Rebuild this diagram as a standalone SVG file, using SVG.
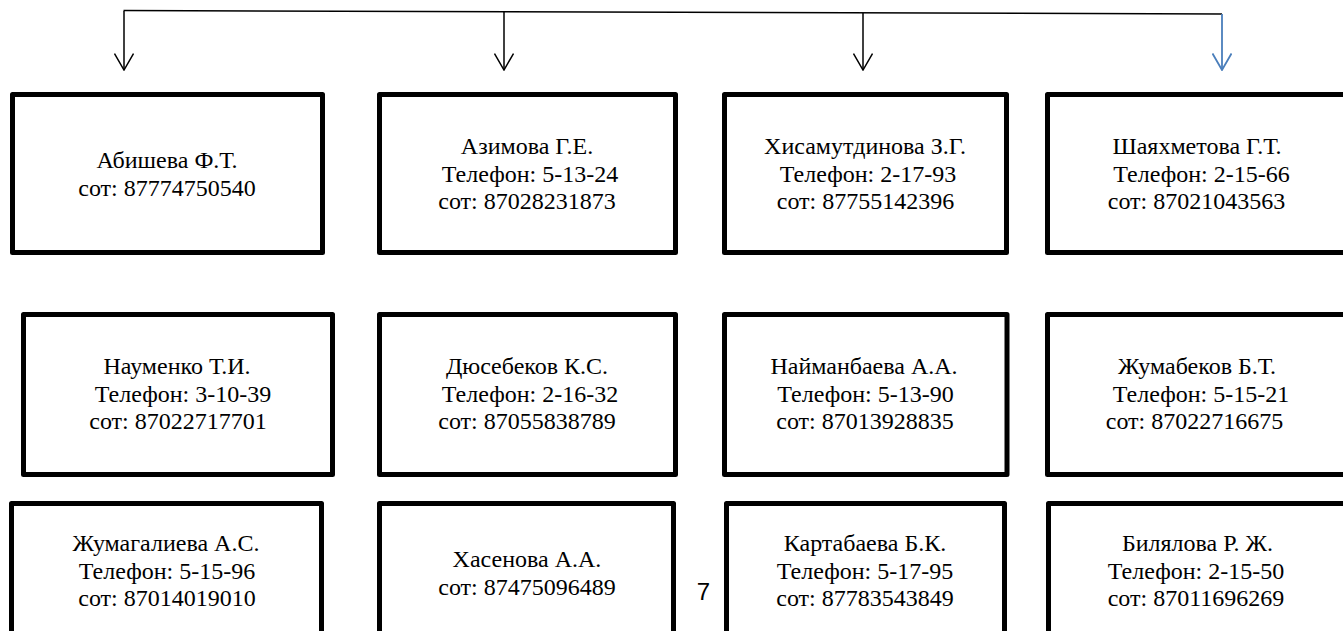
<svg xmlns="http://www.w3.org/2000/svg" width="1343" height="631" viewBox="0 0 1343 631">
<defs>
<style>
.box{fill:#fff;stroke:#000;stroke-width:5;stroke-linejoin:round}
.t{font-family:'Liberation Serif','Times New Roman','DejaVu Serif',serif;font-size:24px;fill:#000;text-anchor:middle}
.ln{fill:none;stroke:#000;stroke-width:1.5}
.blue{fill:none;stroke:#4a7ebb;stroke-width:1.8}
.pg{font-family:'Liberation Sans',Arial,sans-serif;font-size:24px;fill:#000;text-anchor:middle}
</style>
<marker id="ah" viewBox="0 0 18 20" refX="17" refY="10" markerWidth="18" markerHeight="20" markerUnits="userSpaceOnUse" orient="auto">
<path d="M0.5,0.5 L17,10 L0.5,19.5" fill="none" stroke="#000" stroke-width="1.5"/>
</marker>
<marker id="ahb" viewBox="0 0 18 20" refX="17" refY="10" markerWidth="18" markerHeight="20" markerUnits="userSpaceOnUse" orient="auto">
<path d="M0.5,0.5 L17,10 L0.5,19.5" fill="none" stroke="#4a7ebb" stroke-width="1.8"/>
</marker>
</defs>
<rect width="1343" height="631" fill="#fff"/>
<g id="connectors">
<line class="ln" x1="123.5" y1="10.5" x2="1222" y2="14"/>
<line class="ln" x1="124" y1="11" x2="124" y2="70" marker-end="url(#ah)"/>
<line class="ln" x1="504" y1="12" x2="504" y2="70" marker-end="url(#ah)"/>
<line class="ln" x1="863" y1="13" x2="863" y2="70" marker-end="url(#ah)"/>
<line class="blue" x1="1222" y1="14" x2="1222" y2="70" marker-end="url(#ahb)"/>
</g>
<g font-family="Liberation Serif, Times New Roman, DejaVu Serif, serif">
<g id="n1">
<rect class="box" x="12.5" y="94.5" width="310" height="158"/>
<text class="t" x="167" y="168">Абишева Ф.Т.</text>
<text class="t" x="167" y="195.6">сот: 87774750540</text>
</g>
<g id="n2">
<rect class="box" x="379.5" y="94.5" width="296" height="158"/>
<text class="t" x="527" y="154">Азимова Г.Е.</text>
<text class="t" x="530" y="181.6">Телефон: 5-13-24</text>
<text class="t" x="527" y="209.2">сот: 87028231873</text>
</g>
<g id="n3">
<rect class="box" x="724.5" y="94.5" width="282" height="158"/>
<text class="t" x="865" y="154">Хисамутдинова З.Г.</text>
<text class="t" x="868" y="181.6">Телефон: 2-17-93</text>
<text class="t" x="865.5" y="209.2">сот: 87755142396</text>
</g>
<g id="n4">
<rect class="box" x="1047.5" y="94.5" width="320" height="158"/>
<text class="t" x="1197" y="154">Шаяхметова Г.Т.</text>
<text class="t" x="1201.5" y="181.6">Телефон: 2-15-66</text>
<text class="t" x="1196.5" y="209.2">сот: 87021043563</text>
</g>
<g id="n5">
<rect class="box" x="23.5" y="314.5" width="309" height="160"/>
<text class="t" x="177" y="374">Науменко Т.И.</text>
<text class="t" x="183" y="401.6">Телефон: 3-10-39</text>
<text class="t" x="178" y="429.2">сот: 87022717701</text>
</g>
<g id="n6">
<rect class="box" x="379.5" y="314.5" width="296" height="160"/>
<text class="t" x="527" y="374">Дюсебеков К.С.</text>
<text class="t" x="530" y="401.6">Телефон: 2-16-32</text>
<text class="t" x="527" y="429.2">сот: 87055838789</text>
</g>
<g id="n7">
<rect class="box" x="724.5" y="314.5" width="282.5" height="160"/>
<text class="t" x="864" y="374">Найманбаева А.А.</text>
<text class="t" x="865.5" y="401.6">Телефон: 5-13-90</text>
<text class="t" x="865" y="429.2">сот: 87013928835</text>
</g>
<g id="n8">
<rect class="box" x="1047.5" y="314.5" width="320" height="160"/>
<text class="t" x="1197" y="374">Жумабеков Б.Т.</text>
<text class="t" x="1201" y="401.6">Телефон: 5-15-21</text>
<text class="t" x="1194.5" y="429.2">сот: 87022716675</text>
</g>
<g id="n9">
<rect class="box" x="11.5" y="503.5" width="310" height="200"/>
<text class="t" x="166" y="551">Жумагалиева А.С.</text>
<text class="t" x="167" y="578.6">Телефон: 5-15-96</text>
<text class="t" x="167" y="606.2">сот: 87014019010</text>
</g>
<g id="n10">
<rect class="box" x="379.5" y="503.5" width="294" height="200"/>
<text class="t" x="527" y="567">Хасенова А.А.</text>
<text class="t" x="527" y="594.6">сот: 87475096489</text>
</g>
<g id="n11">
<rect class="box" x="726.5" y="503.5" width="278" height="200"/>
<text class="t" x="865" y="551">Картабаева Б.К.</text>
<text class="t" x="865" y="578.6">Телефон: 5-17-95</text>
<text class="t" x="865" y="606.2">сот: 87783543849</text>
</g>
<g id="n12">
<rect class="box" x="1048.5" y="503.5" width="320" height="200"/>
<text class="t" x="1197.5" y="551">Билялова Р. Ж.</text>
<text class="t" x="1196" y="578.6">Телефон: 2-15-50</text>
<text class="t" x="1196" y="606.2">сот: 87011696269</text>
</g>
</g>
<text class="pg" x="703.5" y="600">7</text>
</svg>
